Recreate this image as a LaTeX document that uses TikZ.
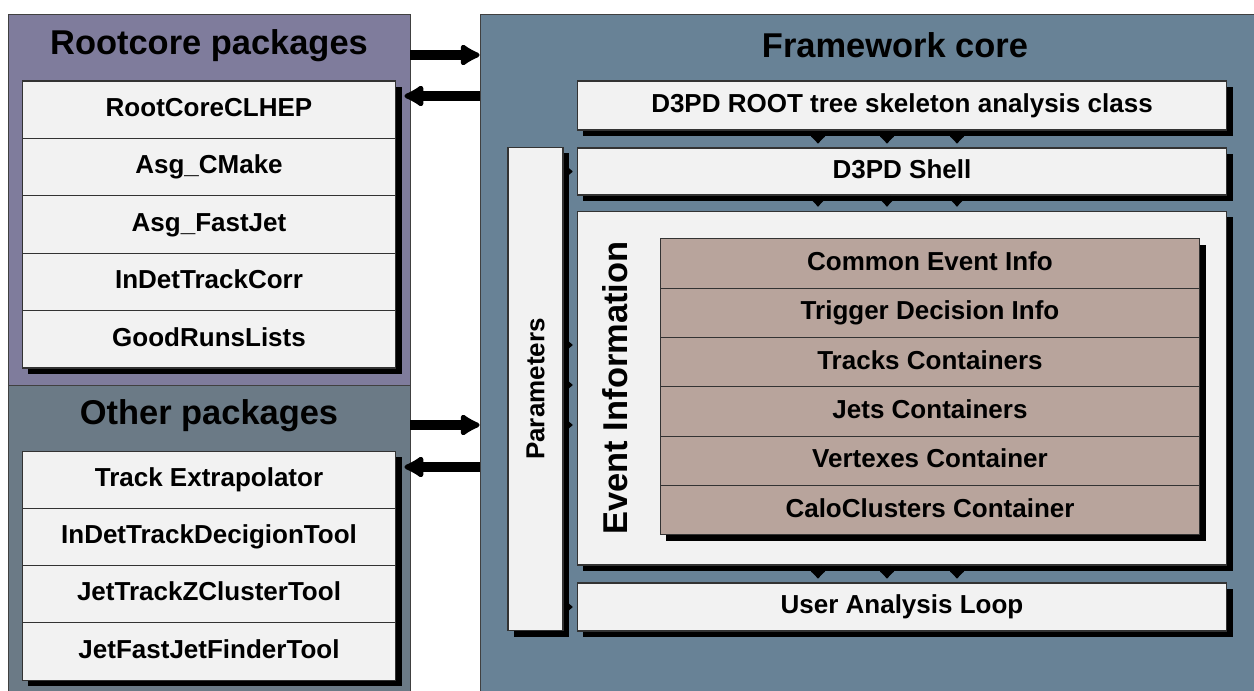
\documentclass[tikz,border=0pt]{standalone}
\usepackage{fontspec}
\setmainfont{Liberation Sans}
\usetikzlibrary{arrows.meta,shadows}
\definecolor{rcpurple}{RGB}{127,124,156}
\definecolor{othergray}{RGB}{107,122,134}
\definecolor{coreblue}{RGB}{104,130,150}
\definecolor{boxgray}{RGB}{242,242,242}
\definecolor{infobrown}{RGB}{184,164,156}
\newcommand{\itemfont}{\fontsize{14.8}{17}\selectfont\bfseries}
\newcommand{\titlefont}{\fontsize{19.6}{23}\selectfont\bfseries}
\tikzset{
  panel/.style={draw=black!75, line width=0.5pt, inner sep=0pt},
  boxshadow/.style={drop shadow={shadow xshift=0.12cm, shadow yshift=-0.12cm, opacity=1, fill=black}},
  item/.style={draw=black!80, line width=0.6pt, fill=boxgray, boxshadow, inner sep=0pt,
    font=\itemfont, text height=0.38cm, text depth=0.11cm},
  paneltitle/.style={font=\titlefont},
  bigarrow/.style={line width=0.19cm, -{Latex[round,length=0.46cm,width=0.52cm]}},
  conn/.style={line width=0.14cm, -{Latex[round,length=0.18cm,width=0.38cm]}, shorten >=0.08cm}
}
\begin{document}
\begin{tikzpicture}[x=0.02cm,y=-0.02cm]
  \useasboundingbox (0,0) rectangle (1254,690);
  % panels
  \node[panel, fill=rcpurple, minimum width=8.04cm, minimum height=7.42cm] (rootcore) at (209,199.5) {};
  \node[panel, fill=othergray, minimum width=8.04cm, minimum height=6.2cm] (other) at (209,540) {};
  \node[panel, fill=coreblue, minimum width=15.6cm, minimum height=13.62cm] (core) at (870,354.5) {};
  \node[paneltitle] (rctitle) at (209,46) {Rootcore packages};
  \node[paneltitle] (ottitle) at (209,416) {Other packages};
  \node[paneltitle] (coretitle) at (895,45) {Framework core};

  % package lists
  \foreach \name [count=\i] in {RootCoreCLHEP,Asg\_CMake,Asg\_FastJet,InDetTrackCorr,GoodRunsLists}
    \node[item, minimum width=7.48cm, minimum height=1.148cm] (rc\i) at (209,{52.3+57.4*\i}) {\name};
  \foreach \name [count=\i] in {Track Extrapolator,InDetTrackDecigionTool,JetTrackZClusterTool,JetFastJetFinderTool}
    \node[item, minimum width=7.48cm, minimum height=1.145cm] (ot\i) at (209,{422.4+57.25*\i}) {\name};

  % framework core
  \node[item, minimum width=13cm, minimum height=0.98cm] (tree) at (902,105.5) {D3PD ROOT tree skeleton analysis class};
  \node[item, minimum width=13cm, minimum height=0.94cm] (shell) at (902,171.5) {D3PD Shell};
  \node[item, minimum width=13cm, minimum height=7.08cm] (evinfo) at (902,388) {};
  \node[item, minimum width=13cm, minimum height=0.96cm] (loop) at (902,607) {User Analysis Loop};
  \node[item, minimum width=1.1cm, minimum height=9.68cm] (params) at (535.5,389) {};
  \node[rotate=90, font=\itemfont] (paramslabel) at (params.center) {Parameters};
  \node[rotate=90, paneltitle] (evlabel) at (615,388) {Event Information};
  \foreach \name [count=\i] in {Common Event Info,Trigger Decision Info,Tracks Containers,Jets Containers,Vertexes Container,CaloClusters Container}
    \node[item, fill=infobrown, minimum width=10.8cm, minimum height=0.987cm] (ev\i) at (930,{214.3+49.33*\i}) {\name};

  % connectors
  \foreach \x in {818,887,957} {
    \draw[conn] (tree.south -| \x,0) -- (shell.north -| \x,0);
    \draw[conn] (shell.south -| \x,0) -- (evinfo.north -| \x,0);
    \draw[conn] (evinfo.south -| \x,0) -- (loop.north -| \x,0);
  }
  \draw[conn] (params.east |- shell.west) -- (shell.west);
  \foreach \y in {345,385,425}
    \draw[conn] (params.east |- 0,\y) -- (evinfo.west |- 0,\y);
  \draw[conn] (params.east |- loop.west) -- (loop.west);

  \draw[bigarrow] (rootcore.east |- 0,55) -- (core.west |- 0,55);
  \draw[bigarrow, shorten >=0.16cm] (core.west |- 0,96) -- (rc1.east |- 0,96);
  \draw[bigarrow] (other.east |- 0,425) -- (core.west |- 0,425);
  \draw[bigarrow, shorten >=0.16cm] (core.west |- 0,467) -- (ot1.east |- 0,467);
\end{tikzpicture}
\end{document}
